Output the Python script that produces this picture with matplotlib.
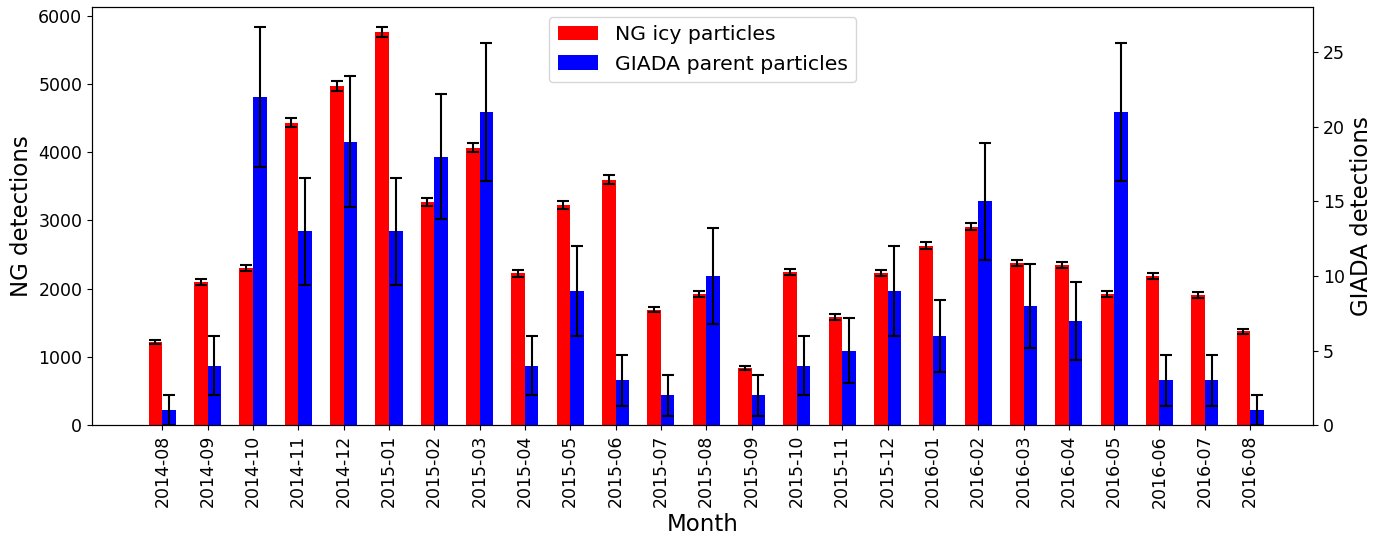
import numpy as np
import matplotlib
matplotlib.use("Agg")
import matplotlib.pyplot as plt

months = ["2014-08", "2014-09", "2014-10", "2014-11", "2014-12",
          "2015-01", "2015-02", "2015-03", "2015-04", "2015-05",
          "2015-06", "2015-07", "2015-08", "2015-09", "2015-10",
          "2015-11", "2015-12", "2016-01", "2016-02", "2016-03",
          "2016-04", "2016-05", "2016-06", "2016-07", "2016-08"]

ng_counts = [1220, 2095, 2305, 4430, 4975, 5760, 3270, 4065, 2225, 3225,
             3600, 1695, 1930, 845, 2245, 1585, 2230, 2630, 2910, 2375,
             2345, 1930, 2185, 1905, 1375]
ng_err = [35, 46, 48, 67, 71, 76, 57, 64, 47, 57,
          60, 41, 44, 29, 47, 40, 47, 51, 54, 49,
          48, 44, 47, 44, 37]

giada_counts = [1, 4, 22, 13, 19, 13, 18, 21, 4, 9,
                3, 2, 10, 2, 4, 5, 9, 6, 15, 8,
                7, 21, 3, 3, 1]
giada_err = [1.0, 2.0, 4.7, 3.6, 4.4, 3.6, 4.2, 4.6, 2.0, 3.0,
             1.7, 1.4, 3.2, 1.4, 2.0, 2.2, 3.0, 2.4, 3.9, 2.8,
             2.6, 4.6, 1.7, 1.7, 1.0]

x = np.arange(len(months))
width = 0.3

fig = plt.figure(figsize=(13.94, 5.4), dpi=100)
ax = fig.add_axes([0.066, 0.2125, 0.876, 0.7745])
ax2 = ax.twinx()

err_kw = dict(ecolor="black", elinewidth=1.5, capthick=1.5)
b1 = ax.bar(x - width / 2, ng_counts, width, yerr=ng_err, color="red",
            capsize=4, error_kw=err_kw, label="NG icy particles")
b2 = ax2.bar(x + width / 2, giada_counts, width, yerr=giada_err, color="blue",
             capsize=4, error_kw=err_kw, label="GIADA parent particles")

ax.set_xlim(-1.55, 25.39)
ax.set_xticks(x)
ax.set_xticklabels(months, rotation=90)
ax.tick_params(labelsize=12.5)
ax2.tick_params(labelsize=12.5)

ax.set_xlabel("Month", fontsize=16.5)
ax.set_ylabel("NG detections", fontsize=16.5)
ax2.set_ylabel("GIADA detections", fontsize=16.5)

ax.legend([b1, b2], ["NG icy particles", "GIADA parent particles"],
          loc="upper center", fontsize=14.7)

fig.savefig("out.png", dpi=100)
